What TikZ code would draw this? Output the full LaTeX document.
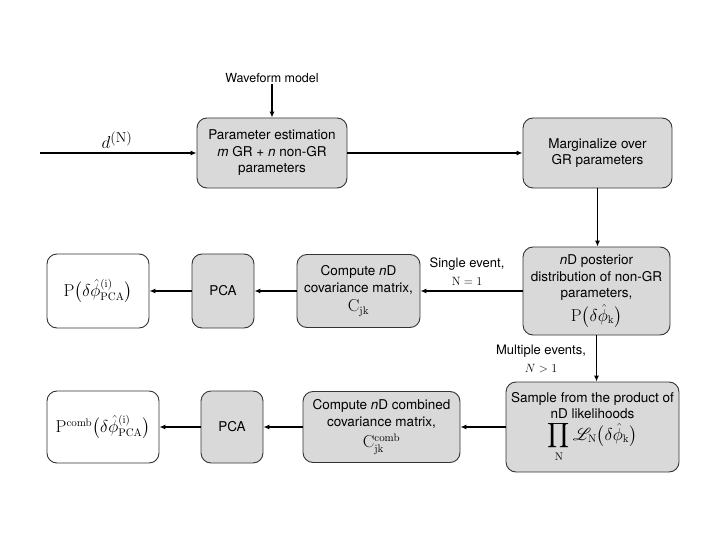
\documentclass[tikz,border=0pt]{standalone}
\usepackage{amsmath}
\usepackage{mathrsfs}
\usepackage[no-math]{fontspec}
\setmainfont{TeX Gyre Heros}
\usetikzlibrary{arrows.meta}
\definecolor{boxgray}{HTML}{D9D9D9}
\definecolor{edge}{HTML}{333333}
\tikzset{
  box/.style={draw=edge, line width=0.9pt, rounded corners=10pt, fill=boxgray, align=center, font=\fontsize{13.5}{16.5}\selectfont, inner sep=1pt},
  wbox/.style={box, fill=white},
  arr/.style={-{Latex[length=6pt,width=5pt]}, line width=1.1pt},
  lbl/.style={align=center, font=\fontsize{13}{18}\selectfont},
}
\newcommand{\mfont}{\fontsize{16}{18}\selectfont}
\begin{document}
\begin{tikzpicture}[x=1pt,y=-1pt]
\useasboundingbox (0,0) rectangle (711,534);
\node[box, minimum width=150pt, minimum height=70pt] (pe) at (272,153) {Parameter estimation\\ \textit{m} GR + \textit{n} non-GR\\ parameters};
\node[box, minimum width=149pt, minimum height=70pt] (mg) at (597.5,153) {Marginalize over\\ GR parameters};
\node[box, minimum width=147pt, minimum height=88pt] (post) at (596.5,291) {\textit{n}D posterior\\ distribution of non-GR\\ parameters,\\[3pt] {\mfont$\mathrm{P}\bigl(\delta\hat{\phi}_{\mathrm{k}}\bigr)$}};
\node[box, minimum width=123pt, minimum height=73pt] (cov) at (358.5,291) {Compute \textit{n}D\\ covariance matrix,\\[3pt] {\mfont$\mathrm{C}_{\mathrm{jk}}$}};
\node[box, minimum width=62pt, minimum height=74pt] (pca1) at (223,291) {PCA};
\node[wbox, minimum width=102pt, minimum height=74pt] (res1) at (98,291) {\mfont$\mathrm{P}\bigl(\delta\hat{\phi}^{(\mathrm{i})}_{\mathrm{PCA}}\bigr)$};
\node[box, minimum width=173pt, minimum height=90pt] (samp) at (592.5,427) {Sample from the product of\\ nD likelihoods\\[2pt] {\mfont$\displaystyle\prod_{\mathrm{N}}\mathscr{L}_{\mathrm{N}}\bigl(\delta\hat{\phi}_{\mathrm{k}}\bigr)$}};
\node[box, minimum width=157pt, minimum height=71pt] (covc) at (381.5,427) {Compute \textit{n}D combined\\ covariance matrix,\\[5pt] {\mfont$\mathrm{C}^{\mathrm{comb}}_{\mathrm{jk}}$}};
\node[box, minimum width=62pt, minimum height=72pt] (pca2) at (232,427) {PCA};
\node[wbox, minimum width=112pt, minimum height=72pt] (res2) at (103,427) {\mfont$\mathrm{P}^{\mathrm{comb}}\bigl(\delta\hat{\phi}^{(\mathrm{i})}_{\mathrm{PCA}}\bigr)$};
\coordinate (din) at (40,153);
\node[font=\fontsize{19}{20}\selectfont] (dlab) at (117,140) {$d^{(\mathrm{N})}$};
\node[lbl, font=\fontsize{12.5}{14}\selectfont, inner sep=1pt] (wf) at (272,78) {Waveform model};
\node[lbl] (single) at (467,272) {Single event,\\ $\mathrm{N}=1$};
\node[lbl] (multi) at (541,359) {Multiple events,\\ $N>1$};
\draw[arr] (din) -- (pe.west);
\draw[arr] (wf.south) -- (pe.north);
\draw[arr] (pe.east) -- (mg.west);
\draw[arr] (mg.south) -- (mg.south |- post.north);
\draw[arr] (post.west) -- (post.west -| cov.east);
\draw[arr] (cov.west) -- (pca1.east);
\draw[arr] (pca1.west) -- (res1.east);
\draw[arr] (post.south) -- (post.south |- samp.north);
\draw[arr] (samp.west) -- (covc.east);
\draw[arr] (covc.west) -- (pca2.east);
\draw[arr] (pca2.west) -- (res2.east);
\end{tikzpicture}
\end{document}
